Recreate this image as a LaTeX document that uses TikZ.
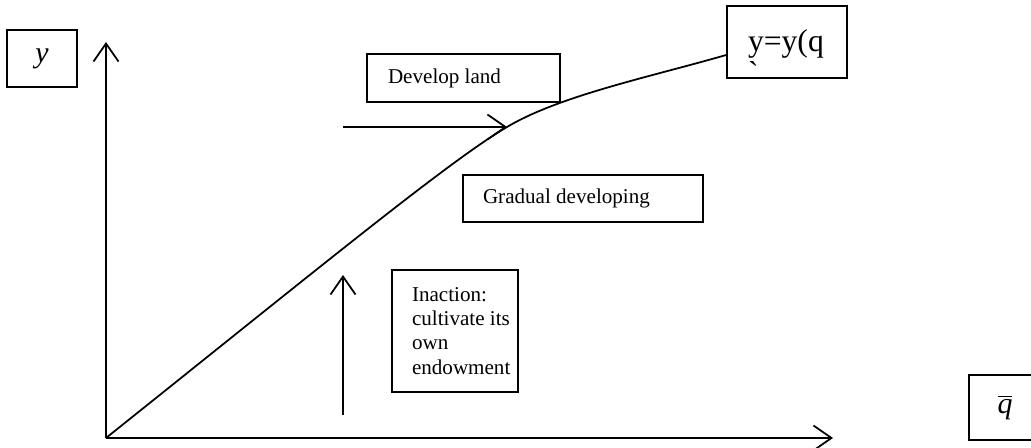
\documentclass[tikz,border=0pt]{standalone}
\usepackage{fontspec}
\setmainfont{Liberation Serif}
\usepackage{tikz}
\usetikzlibrary{arrows.meta}

\begin{document}
\begin{tikzpicture}[
		box/.style={draw, line width=1pt, inner sep=0pt, text=black},
		curve/.style={line width=1pt},
		arr/.style={line width=1pt, -{Straight Barb[length=0.36cm, width=0.5cm, line width=1pt]}}
	]
				\useasboundingbox (0,0) rectangle (20.62,8.96);
				
				\coordinate (o) at (2.12,0.2);
				\coordinate (ytop) at (2.12,8.12);
				\coordinate (xend) at (16.66,0.2);
				\coordinate (devtail) at (6.86,6.42);
				\coordinate (devhead) at (10.14,6.42);
				\coordinate (uptail) at (6.86,0.66);
				\coordinate (uphead) at (6.86,3.46);
				
				\node[box, font=\fontsize{17}{20}\selectfont\itshape] (ylab) at (0.84,7.79) {
					\begin{minipage}[c][1.14cm]{1.4cm}
					\centering
					y
					\end{minipage}
				};
				\node[box, font=\fontsize{17}{20}\selectfont] (qlab) at (20.1,0.81) {
					\begin{minipage}[c][1.3cm]{1.44cm}
					\centering
					$\overline{\mbox{\itshape q}}$
					\end{minipage}
				};
				
				\node[box, font=\fontsize{18}{18}\selectfont] (yq) at (15.74,8.12) {
					\begin{minipage}[c][1.44cm][t]{2.4cm}
					\leftskip=0.42cm
					\vspace*{0.48cm}
					y=y(q\\\textasciigrave
					\end{minipage}
				};
				
				\node[box, font=\fontsize{12}{14}\selectfont] (develop) at (9.27,7.4) {
					\begin{minipage}[c][0.96cm]{3.86cm}
					\leftskip=0.42cm
					Develop land
					\end{minipage}
				};
				\node[box, font=\fontsize{12}{14}\selectfont] (gradual) at (11.66,4.99) {
					\begin{minipage}[c][0.94cm]{4.8cm}
					\leftskip=0.4cm
					Gradual developing
					\end{minipage}
				};
				\node[box, font=\fontsize{12}{13.8}\selectfont] (inaction) at (9.1,2.34) {
					\begin{minipage}[c][2.44cm]{2.52cm}
					\leftskip=0.4cm
					Inaction:\\cultivate its\\own\\endowment
					\end{minipage}
				};
				
				\draw[arr] (o) -- (ytop);
				\draw[arr] (o) -- (xend);
				
				\draw[curve] (o) .. controls (6.5,3.7) and (9.0,5.75) .. (devhead) .. controls (11.2,7.05) and (13,7.42) .. ([yshift=-0.26cm]yq.west);
				
				\draw[arr] (devtail) -- (devhead);
				\draw[arr] (uptail) -- (uphead);
			\end{tikzpicture}
\end{document}
